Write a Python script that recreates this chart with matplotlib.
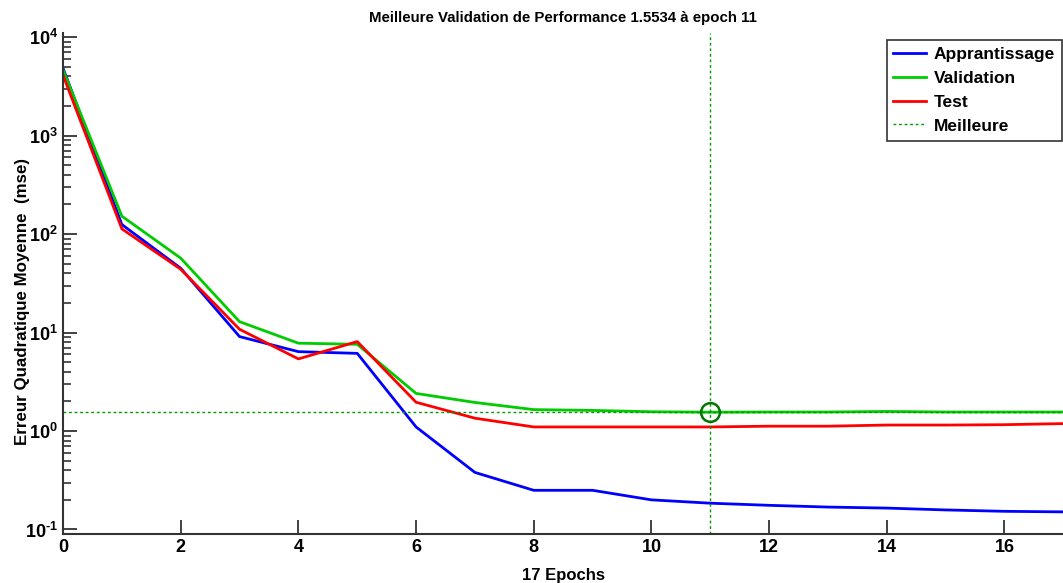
import matplotlib
matplotlib.use('Agg')
import matplotlib.pyplot as plt
import numpy as np
from matplotlib.ticker import FixedLocator, FuncFormatter, LogLocator

plt.rcParams['font.family'] = ['Liberation Sans', 'DejaVu Sans']
plt.rcParams['font.weight'] = 'bold'
plt.rcParams['mathtext.fontset'] = 'custom'
plt.rcParams['mathtext.rm'] = 'Liberation Sans:bold'
plt.rcParams['mathtext.bf'] = 'Liberation Sans:bold'
plt.rcParams['mathtext.it'] = 'Liberation Sans:bold'

epochs = np.arange(18)
train = [4840, 125, 45, 9.1, 6.4, 6.15, 1.1, 0.38, 0.25, 0.25, 0.2, 0.185,
         0.176, 0.169, 0.165, 0.158, 0.153, 0.151]
valid = [4650, 152, 57, 12.9, 7.8, 7.6, 2.41, 1.95, 1.65, 1.62, 1.57, 1.5534,
         1.56, 1.56, 1.58, 1.56, 1.56, 1.56]
test = [4100, 113, 44, 10.8, 5.4, 8.1, 1.96, 1.35, 1.1, 1.1, 1.1, 1.1,
        1.12, 1.12, 1.15, 1.15, 1.16, 1.19]
best_epoch = 11
best_perf = 1.5534


def fmt_pow(v, p):
    e = int(round(np.log10(v)))
    if e < 0:
        return r'$10^{\text{-}%d}$' % (-e)
    return r'$10^{%d}$' % e


fig = plt.figure(figsize=(10.63, 5.83), dpi=100)
ax = fig.add_axes([0.0593, 0.084, 0.941, 0.859])

ax.semilogy(epochs, train, color='#0000ff', lw=2, label='Apprantissage')
ax.semilogy(epochs, valid, color='#00cc00', lw=2, label='Validation')
ax.semilogy(epochs, test, color='#ff0000', lw=2, label='Test')
ax.axhline(best_perf, color='#009900', ls=(0, (2, 2)), lw=1, label='Meilleure')
ax.axvline(best_epoch, color='#009900', ls=(0, (2, 2)), lw=1)
ax.plot([best_epoch], [best_perf], 'o', mfc='none', mec='#007700', ms=13.5, mew=1.8)

ax.set_xlim(0, 17)
ax.set_ylim(10 ** -1.046, 10 ** 4.04)
ax.set_xticks([0, 2, 4, 6, 8, 10, 12, 14, 16])
ax.yaxis.set_major_locator(FixedLocator([0.1, 1, 10, 100, 1000, 10000]))
ax.yaxis.set_minor_locator(LogLocator(base=10, subs=np.arange(2, 10)))
ax.yaxis.set_major_formatter(FuncFormatter(fmt_pow))
ax.tick_params(axis='both', which='major', direction='in', length=10, width=1.3,
               labelsize=13, color='#333333')
ax.tick_params(axis='y', which='minor', direction='in', length=6, width=1.2, color='#333333')
ax.tick_params(axis='x', which='minor', bottom=False)
for s in ['top', 'right']:
    ax.spines[s].set_visible(False)
for s in ['left', 'bottom']:
    ax.spines[s].set_linewidth(1.5)
    ax.spines[s].set_color('#333333')

ax.set_title('Meilleure Validation de Performance 1.5534 à epoch 11',
             fontsize=10.8, fontweight='bold', pad=8)
ax.set_xlabel('17 Epochs', fontsize=12, fontweight='bold', labelpad=9)
ax.set_ylabel('Erreur Quadratique Moyenne  (mse)', fontsize=12.2, fontweight='bold')
ax.yaxis.set_label_coords(-0.033, 0.465)

leg = ax.legend(loc='upper right', bbox_to_anchor=(1.0, 0.99), borderaxespad=0.1,
                fontsize=12.5, fancybox=False, framealpha=1, edgecolor='#333333',
                handlelength=1.9, borderpad=0.4, labelspacing=0.5, handletextpad=0.4)
leg.get_frame().set_linewidth(1.2)

plt.savefig('out.png', dpi=100)
